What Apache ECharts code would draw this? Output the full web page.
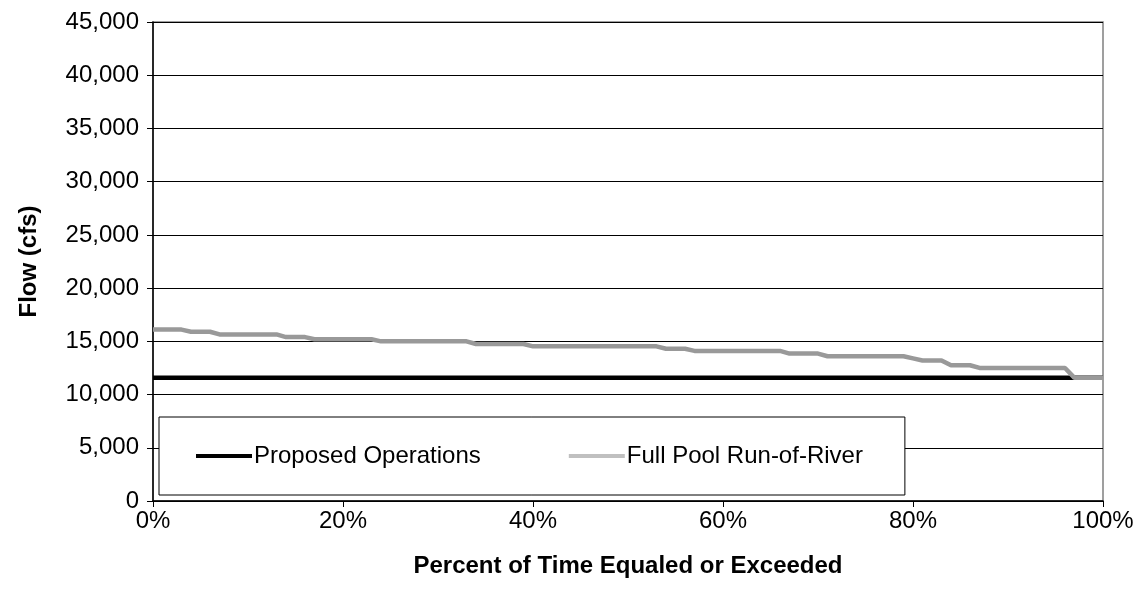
<!DOCTYPE html>
<html>
<head>
<meta charset="utf-8">
<script src="https://cdn.jsdelivr.net/npm/echarts@6/dist/echarts.min.js"></script>
<style>
html,body{margin:0;padding:0;background:#fff;}
#c{width:1143px;height:610px;}
</style>
</head>
<body>
<div id="c"></div>
<script>
// Percent of time equaled or exceeded (0..100 %)
const percents = [
  0,1,2,3,4,5,6,7,8,9,10,11,12,13,14,15,16,17,18,19,20,
  21,22,23,24,25,26,27,28,29,30,31,32,33,34,35,36,37,38,39,40,
  41,42,43,44,45,46,47,48,49,50,51,52,53,54,55,56,57,58,59,60,
  61,62,63,64,65,66,67,68,69,70,71,72,73,74,75,76,77,78,79,80,
  81,82,83,84,85,86,87,88,89,90,91,92,93,94,95,96,97,98,99,100
];
// Proposed Operations flow (cfs)
const proposedOps = [
  11570,11570,11570,11570,11570,11570,11570,11570,11570,11570,11570,
  11570,11570,11570,11570,11570,11570,11570,11570,11570,11570,
  11570,11570,11570,11570,11570,11570,11570,11570,11570,11570,
  11570,11570,11570,11570,11570,11570,11570,11570,11570,11570,
  11570,11570,11570,11570,11570,11570,11570,11570,11570,11570,
  11570,11570,11570,11570,11570,11570,11570,11570,11570,11570,
  11570,11570,11570,11570,11570,11570,11570,11570,11570,11570,
  11570,11570,11570,11570,11570,11570,11570,11570,11570,11570,
  11570,11570,11570,11570,11570,11570,11570,11570,11570,11570,
  11570,11570,11570,11570,11570,11570,11570,11570,11570,11570
];
// Full Pool Run-of-River flow (cfs)
const fullPool = [
  16100,16100,16100,16100,15900,15900,15900,15650,15650,15650,
  15650,15650,15650,15650,15400,15400,15400,15200,15200,15200,
  15200,15200,15200,15200,15000,15000,15000,15000,15000,15000,
  15000,15000,15000,15000,14750,14750,14750,14750,14750,14750,
  14530,14530,14530,14530,14530,14530,14530,14530,14530,14530,
  14530,14530,14530,14530,14300,14300,14300,14100,14100,14100,
  14100,14100,14100,14100,14100,14100,14100,13850,13850,13850,
  13850,13600,13600,13600,13600,13600,13600,13600,13600,13600,
  13400,13200,13200,13200,12750,12750,12750,12500,12500,12500,
  12500,12500,12500,12500,12500,12500,12500,11570,11570,11570,
  11570
];
const seriesNames = ['Proposed Operations', 'Full Pool Run-of-River'];
const yTicks = [0,5000,10000,15000,20000,25000,30000,35000,40000,45000];

const FONT = "'Liberation Sans', Arial, sans-serif";
const chart = echarts.init(document.getElementById('c'), null, {renderer:'canvas'});
chart.setOption({
  animation: false,
  backgroundColor: '#fff',
  grid: {left:153, right:40, top:22, bottom:109, show:true, borderColor:'#808080', borderWidth:1.5, backgroundColor:'transparent'},
  xAxis: {
    type:'value', min:0, max:100, interval:20,
    name:'Percent of Time Equaled or Exceeded', nameLocation:'middle', nameGap:53,
    nameTextStyle:{fontFamily:FONT, fontSize:24, fontWeight:'bold', color:'#000'},
    axisLine:{show:true, lineStyle:{color:'#000', width:1.5}},
    axisTick:{show:true, inside:false, length:6, lineStyle:{color:'#000'}},
    axisLabel:{fontFamily:FONT, fontSize:24, color:'#000', margin:8, formatter:v=>v+'%'},
    splitLine:{show:false}
  },
  yAxis: {
    type:'value', min:yTicks[0], max:yTicks[yTicks.length-1], interval:5000,
    name:'Flow (cfs)', nameLocation:'middle', nameGap:112, nameRotate:90,
    nameTextStyle:{fontFamily:FONT, fontSize:24, fontWeight:'bold', color:'#000'},
    axisLine:{show:true, lineStyle:{color:'#000', width:1.5}},
    axisTick:{show:true, inside:false, length:6, lineStyle:{color:'#000'}},
    axisLabel:{fontFamily:FONT, fontSize:24, color:'#000', margin:14,
      formatter:v=>v.toLocaleString('en-US')},
    splitLine:{show:true, lineStyle:{color:'#000', width:1}}
  },
  legend: {
    left:159, top:417,
    orient:'horizontal',
    backgroundColor:'#fff', borderColor:'#000', borderWidth:1,
    padding:[27, 42, 27, 37],
    itemGap:88, itemWidth:56, itemHeight:4, icon:'rect',
    textStyle:{fontFamily:FONT, fontSize:24, color:'#000', padding:[0,0,0,-3]},
    data:[
      {name:seriesNames[0], itemStyle:{color:'#000'}},
      {name:seriesNames[1], itemStyle:{color:'#c0c0c0'}}
    ]
  },
  series: [
    {name:seriesNames[0], type:'line', symbol:'none', z:2,
     data: percents.map((p,i)=>[p, proposedOps[i]]),
     lineStyle:{color:'#000', width:4.5}, itemStyle:{color:'#000'}},
    {name:seriesNames[1], type:'line', symbol:'none', z:3,
     data: percents.map((p,i)=>[p, fullPool[i]]),
     lineStyle:{color:'#999999', width:4.5}, itemStyle:{color:'#999999'}}
  ]
});
</script>
</body>
</html>
